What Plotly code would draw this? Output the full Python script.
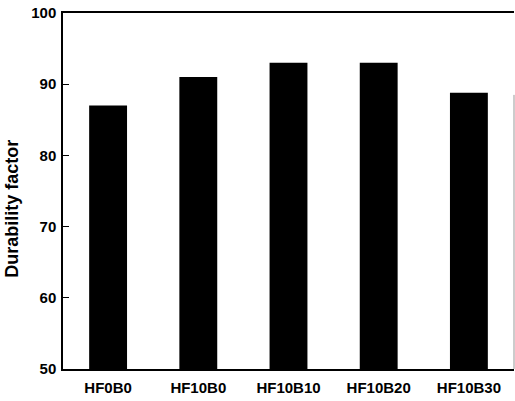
import plotly.graph_objects as go

categories = ["HF0B0", "HF10B0", "HF10B10", "HF10B20", "HF10B30"]
durability = [87, 91, 93, 93, 88.8]
y_ticks = [50, 60, 70, 80, 90, 100]

fig = go.Figure()
fig.add_trace(go.Bar(
    x=categories, y=durability,
    marker=dict(color="black", line=dict(width=0)),
    width=0.42,
))

font = dict(family="Liberation Sans, Arial", size=14, color="black")

fig.update_layout(
    width=515, height=401,
    margin=dict(l=63, r=1, t=13, b=32),
    paper_bgcolor="white", plot_bgcolor="white",
    showlegend=False,
    font=font,
    xaxis=dict(
        range=[-0.5, 4.5],
        showline=True, linecolor="black", linewidth=1.5,
        mirror=True,
        ticks="", showgrid=False,
        tickfont=dict(family="Liberation Sans, Arial", size=15, color="black", weight="bold"),
        ticklabelstandoff=4,
    ),
    yaxis=dict(
        range=[50, 100],
        tickvals=y_ticks,
        showline=True, linecolor="black", linewidth=1.5,
        ticks="inside", ticklen=6, tickwidth=1.2, tickcolor="black",
        showgrid=False, zeroline=False,
        tickfont=dict(family="Liberation Sans, Arial", size=15, color="black", weight="bold"),
        ticklabelstandoff=2,
    ),
)

fig.add_annotation(
    text="Durability factor", textangle=-90,
    xref="paper", yref="paper", x=0, y=0.45,
    xanchor="center", yanchor="middle", xshift=-51,
    showarrow=False,
    font=dict(family="Liberation Sans, Arial", size=18, color="black", weight="bold"),
)

fig.add_shape(type="line", xref="paper", yref="y", x0=1, x1=1, y0=50, y1=88.5,
              line=dict(color="#999999", width=1))

fig.write_html("out.html")
